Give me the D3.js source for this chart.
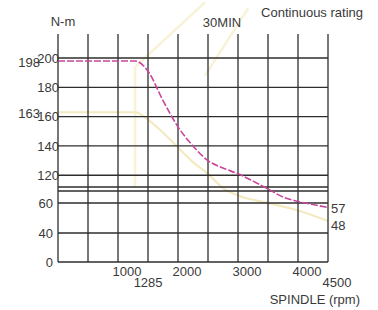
<!DOCTYPE html>
<html>
<head>
<meta charset="utf-8">
<script src="https://cdn.jsdelivr.net/npm/d3@7"></script>
<style>
  body { margin: 0; background: #fff; }
  text { font-family: "Liberation Sans", Arial, sans-serif; font-size: 13px; fill: #3a3a3a; }
</style>
</head>
<body>
<script>
var width = 378;
var height = 310;

// grid positions (rpm and N-m)
var xGrid = [0, 500, 1000, 1500, 2000, 2500, 3000, 3500, 4000, 4500];
var upperGrid = [200, 180, 160, 140, 120];
var lowerGrid = [60, 40, 0];
var breakValues = [112, 68];

// tick labels
var xTicksRow1 = [1000, 2000, 3000, 4000];
var xTicksRow2 = [1285, 4500];
var yMarks = [198, 163];
var endMarks = [57, 48];

// 30MIN torque curve (magenta, dashed)
var rpm30 = [0, 1285, 1500, 1750, 2000, 2250, 2500, 2750, 3000, 3250, 3500, 3750, 4000, 4250, 4500];
var torque30 = [198, 198, 191, 171, 153, 140, 130, 125, 121, 116, 90, 64, 61, 59, 57];

// continuous rating torque curve (yellow)
var rpmCont = [0, 1285, 1500, 1750, 2000, 2250, 2500, 2750, 3000, 3500, 4000, 4500];
var torqueCont = [163, 163, 158, 149, 139, 129, 121, 100, 65, 60, 55, 48];

// faint yellow guide lines
var rpmKnee = [1285, 1285];
var torqueKnee = [194, 112];
var rpmPower30 = [1285, 2450];
var valPower30 = [194, 238];
var rpmPowerCont = [2450, 3170];
var valPowerCont = [188, 234];

var svg = d3.select('body').append('svg')
            .attr('width', width)
            .attr('height', height);

var x = d3.scaleLinear().domain([0, 4500]).range([58, 328]);
// broken axis: lower part 0-68, upper part 112-240
var y = d3.scaleLinear()
          .domain([0, 40, 60, 68, 112, 200, 240])
          .range([262, 233, 203, 191, 187, 58, -0.5]);

var zip = function(xs, ys) {
  return xs.map((v, i) => [v, ys[i]]);
};

var line = d3.line()
             .x(d => x(d[0]))
             .y(d => y(d[1]));

var smooth = d3.line()
               .x(d => x(d[0]))
               .y(d => y(d[1]))
               .curve(d3.curveMonotoneX);

// faint yellow lines first, under the grid
var guides = [
  zip(rpmKnee, torqueKnee),
  zip(rpmPower30, valPower30),
  zip(rpmPowerCont, valPowerCont)
];
svg.selectAll('.guide')
   .data(guides)
   .enter().append('path')
   .attr('class', 'guide')
   .attr('d', line)
   .attr('fill', 'none')
   .attr('stroke', '#f8f3d6')
   .attr('stroke-width', 2.5);

svg.append('path')
   .datum(zip(rpmCont, torqueCont))
   .attr('d', smooth)
   .attr('fill', 'none')
   .attr('stroke', '#f3eac0')
   .attr('stroke-width', 2.2);

// grid
var gridG = svg.append('g').attr('stroke', '#2e2e2e').attr('stroke-width', 1.3);

gridG.selectAll('.vline')
     .data(xGrid)
     .enter().append('line')
     .attr('x1', d => x(d))
     .attr('x2', d => x(d))
     .attr('y1', 34)
     .attr('y2', y(0));

gridG.selectAll('.hline')
     .data(upperGrid.concat(breakValues, lowerGrid))
     .enter().append('line')
     .attr('x1', x(0))
     .attr('x2', x(4500))
     .attr('y1', d => y(d))
     .attr('y2', d => y(d));

// 30MIN curve
svg.append('path')
   .datum(zip(rpm30, torque30))
   .attr('d', smooth)
   .attr('fill', 'none')
   .attr('stroke', '#c9459c')
   .attr('stroke-width', 1.6)
   .attr('stroke-dasharray', '7,2');

// y labels
svg.selectAll('.ylabU')
   .data(upperGrid)
   .enter().append('text')
   .attr('x', 59)
   .attr('y', d => y(d))
   .attr('dy', '0.36em')
   .attr('text-anchor', 'end')
   .text(d => d);

svg.selectAll('.ylabL')
   .data(lowerGrid)
   .enter().append('text')
   .attr('x', 53)
   .attr('y', d => y(d))
   .attr('dy', '0.36em')
   .attr('text-anchor', 'end')
   .text(d => d);

svg.selectAll('.ymark')
   .data(yMarks)
   .enter().append('text')
   .attr('x', 40)
   .attr('y', d => y(d) + 1)
   .attr('dy', '0.36em')
   .attr('text-anchor', 'end')
   .text(d => d);

svg.selectAll('.endmark')
   .data(endMarks)
   .enter().append('text')
   .attr('x', 331)
   .attr('y', (d, i) => y(d) + 1 + i * 3)
   .attr('dy', '0.36em')
   .text(d => d);

// x labels
svg.selectAll('.xlab1')
   .data(xTicksRow1)
   .enter().append('text')
   .attr('x', d => x(d) + 9)
   .attr('y', 276)
   .attr('text-anchor', 'middle')
   .text(d => d);

svg.selectAll('.xlab2')
   .data(xTicksRow2)
   .enter().append('text')
   .attr('x', d => x(d) + (d === 1285 ? 13 : 9))
   .attr('y', 287)
   .attr('text-anchor', 'middle')
   .text(d => d);

svg.append('text').attr('x', 63).attr('y', 26).attr('text-anchor', 'middle').text('N-m');
svg.append('text').attr('x', 222).attr('y', 27).attr('text-anchor', 'middle').text('30MIN');
svg.append('text').attr('x', 363).attr('y', 17).attr('text-anchor', 'end').text('Continuous rating');
svg.append('text').attr('x', 360).attr('y', 304).attr('text-anchor', 'end').text('SPINDLE (rpm)');
</script>
</body>
</html>
